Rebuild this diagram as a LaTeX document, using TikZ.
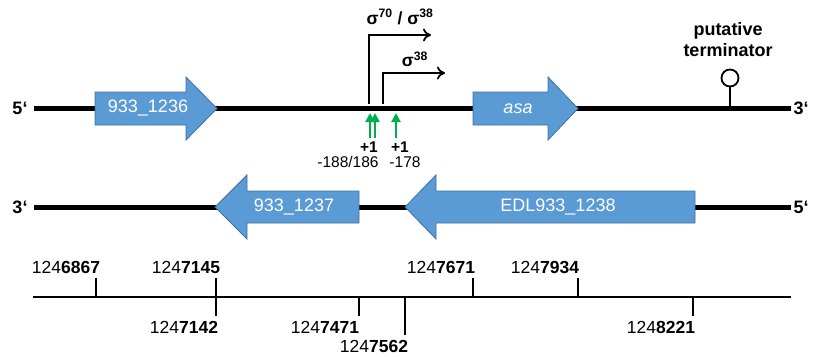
\documentclass[tikz,border=0pt]{standalone}
\usepackage{fontspec}
\setmainfont{Liberation Sans}
\usetikzlibrary{arrows.meta}
\definecolor{geneblue}{HTML}{5B9BD5}
\definecolor{geneedge}{HTML}{41719C}
\definecolor{tssgreen}{HTML}{00B050}
\newcommand{\posnum}[2]{#1\textbf{#2}}
\begin{document}
\begin{tikzpicture}[x=1pt,y=-1pt,
  dna/.style={line width=5pt},
  gene/.style={fill=geneblue, draw=geneedge, line width=0.8pt},
  genelabel/.style={text=white, inner sep=0pt, font=\fontsize{18}{20}\selectfont},
  endlabel/.style={inner sep=0pt, font=\fontsize{18}{20}\selectfont\bfseries},
  promoter/.style={line width=1.8pt, -{To[length=8pt,width=13pt,line width=1.8pt]}},
  tss/.style={draw=tssgreen, line width=2.2pt, -{Triangle[length=9pt,width=9pt]}},
  smalllabel/.style={inner sep=0pt, font=\fontsize{15.5}{17}\selectfont},
  siglabel/.style={inner sep=0pt, font=\fontsize{17.5}{19}\selectfont\bfseries},
  ruler/.style={line width=1.5pt},
  ticklabel/.style={inner sep=0pt, font=\fontsize{17.5}{19}\selectfont},
]
\useasboundingbox (0,0) rectangle (813,356);

% ---------- top strand (5' -> 3') ----------
\node[endlabel] (t5) at (20,108) {5‘};
\node[endlabel] (t3) at (801,108) {3‘};
\coordinate (tl) at (34,108);
\coordinate (tr) at (791,108);
\draw[dna] (tl) -- (tr);

% putative terminator
\coordinate (termfoot) at (730,108);
\node[draw, circle, line width=1.8pt, minimum size=17pt, inner sep=0pt] (termloop) at (730,78) {};
\draw[line width=1.8pt] (termfoot) -- (termloop.south);
\node[inner sep=0pt, align=center, font=\fontsize{18}{21}\selectfont\bfseries] (termtext) at (728,40) {putative\\terminator};

% promoters
\coordinate (p1) at (369,104);
\coordinate (p1e) at (431,35);
\coordinate (p2) at (383,104);
\coordinate (p2e) at (445,73);
\draw[promoter] (p1) |- (p1e);
\draw[promoter] (p2) |- (p2e);
\node[siglabel] (sig1) at (400,17) {σ\textsuperscript{70} / σ\textsuperscript{38}};
\node[siglabel] (sig2) at (415,59) {σ\textsuperscript{38}};

% transcription start sites
\coordinate (s1a) at (370,138); \coordinate (s1at) at (370,113);
\coordinate (s1b) at (375,138); \coordinate (s1bt) at (375,113);
\coordinate (s2) at (396,138);  \coordinate (s2t) at (396,113);
\draw[tss] (s1a) -- (s1at);
\draw[tss] (s1b) -- (s1bt);
\draw[tss] (s2) -- (s2t);
\node[smalllabel, font=\fontsize{15.5}{17}\selectfont\bfseries] (plus1a) at (369,147) {+1};
\node[smalllabel, font=\fontsize{15.5}{17}\selectfont\bfseries] (plus1b) at (400,147) {+1};
\node[smalllabel] (posa) at (348,162) {-188/186};
\node[smalllabel] (posb) at (405,162) {-178};

% genes on top strand
\draw[gene] (95,92) -- (186,92) -- (186,77) -- (217,108.5) -- (186,140) -- (186,125) -- (95,125) -- cycle;
\node[genelabel] (g1236) at (148,108.5) {933\_1236};
\draw[gene] (473,92) -- (548,92) -- (548,77) -- (578,108.5) -- (548,140) -- (548,125) -- (473,125) -- cycle;
\node[genelabel, font=\fontsize{18}{20}\selectfont\itshape] (gasa) at (518,108.5) {asa};

% ---------- bottom strand (3' <- 5') ----------
\node[endlabel] (b3) at (20,207) {3‘};
\node[endlabel] (b5) at (801,207) {5‘};
\coordinate (bl) at (34,207);
\coordinate (br) at (791,207);
\draw[dna] (bl) -- (br);

\draw[gene] (359,191) -- (247,191) -- (247,175) -- (215,207) -- (247,239) -- (247,223) -- (359,223) -- cycle;
\node[genelabel] (g1237) at (294,207) {933\_1237};
\draw[gene] (695,191) -- (436,191) -- (436,175) -- (405,207) -- (436,239) -- (436,223) -- (695,223) -- cycle;
\node[genelabel] (g1238) at (558,207) {EDL933\_1238};

% ---------- genome coordinate ruler ----------
\coordinate (rl) at (33,297);
\coordinate (rr) at (791,297);
\draw[ruler] (rl) -- (rr);
% ticks above
\foreach \x in {96,216,473,578} \draw[ruler] (\x,297) -- (\x,278);
% ticks below
\foreach \x in {216,359,693} \draw[ruler] (\x,297) -- (\x,316);
\draw[ruler] (405,297) -- (405,335);

\node[ticklabel] (c6867) at (66,267) {\posnum{124}{6867}};
\node[ticklabel] (c7145) at (186,267) {\posnum{124}{7145}};
\node[ticklabel] (c7671) at (441,267) {\posnum{124}{7671}};
\node[ticklabel] (c7934) at (545,267) {\posnum{124}{7934}};
\node[ticklabel] (c7142) at (184,327) {\posnum{124}{7142}};
\node[ticklabel] (c7471) at (325,327) {\posnum{124}{7471}};
\node[ticklabel] (c7562) at (374,346) {\posnum{124}{7562}};
\node[ticklabel] (c8221) at (661,327) {\posnum{124}{8221}};
\end{tikzpicture}
\end{document}
